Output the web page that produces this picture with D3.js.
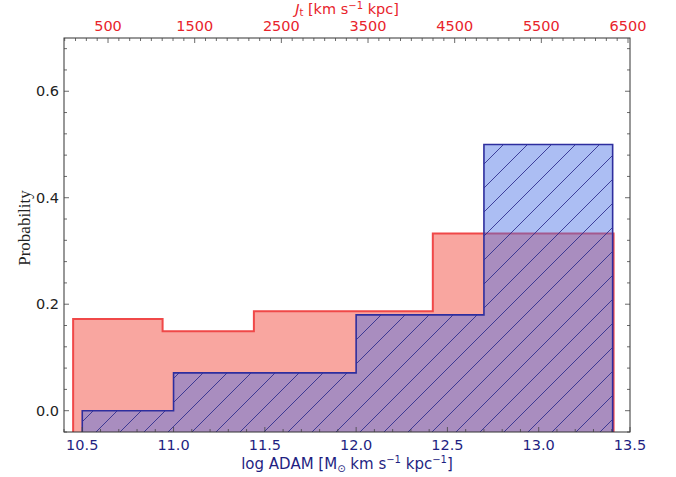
<!DOCTYPE html>
<html>
<head>
<meta charset="utf-8">
<script src="https://cdn.jsdelivr.net/npm/d3@7"></script>
<style>
  body { margin: 0; background: #fff; }
  svg { display: block; }
  text { font-family: "DejaVu Sans", sans-serif; }
  text.serif { font-family: "Liberation Serif", "DejaVu Serif", serif; }
</style>
</head>
<body>
<div id="chart"></div>
<script>
// histogram
const redEdges = [10.45, 10.94, 11.44, 11.93, 12.42, 12.92, 13.41];
const redValues = [0.172, 0.149, 0.187, 0.187, 0.333, 0.333];
const blueEdges = [10.5, 11.0, 12.0, 12.7, 13.405];
const blueValues = [0.0, 0.071, 0.18, 0.5];

const bottomTicks = [10.5, 11.0, 11.5, 12.0, 12.5, 13.0, 13.5];
const yTicks = [0.0, 0.2, 0.4, 0.6];
const topTicks = [500, 1500, 2500, 3500, 4500, 5500, 6500];

const width = 676, height = 477;
const margin = {top: 38, right: 46, bottom: 45, left: 64};

const svg = d3.select("#chart").append("svg")
    .attr("width", width)
    .attr("height", height);

const x = d3.scaleLinear().domain([10.4, 13.5]).range([margin.left, width - margin.right]);
const y = d3.scaleLinear().domain([-0.04, 0.70]).range([height - margin.bottom, margin.top]);
const xTop = d3.scaleLinear().domain([-8, 6523]).range([margin.left, width - margin.right]);

const navy = "#1f1f82";
const red = "#e8232b";

const defs = svg.append("defs");
defs.append("clipPath").attr("id", "plotClip")
    .append("rect")
    .attr("x", margin.left).attr("y", margin.top)
    .attr("width", width - margin.left - margin.right)
    .attr("height", height - margin.top - margin.bottom);

// "/" hatch
const hatch = defs.append("pattern")
    .attr("id", "hatch")
    .attr("patternUnits", "userSpaceOnUse")
    .attr("width", 24).attr("height", 24);
hatch.append("path")
    .attr("d", "M-6,6 L6,-6 M0,24 L24,0 M18,30 L30,18")
    .attr("stroke", "#2a2a8c")
    .attr("stroke-width", 1)
    .attr("stroke-opacity", 0.85);

// step outline from edges + values, closed down to the baseline
function stepPoints(edges, values) {
    const base = -0.1;
    const pts = [[edges[0], base]];
    values.forEach((v, i) => {
        pts.push([edges[i], v]);
        pts.push([edges[i + 1], v]);
    });
    pts.push([edges[edges.length - 1], base]);
    return pts;
}

const line = d3.line().x(d => x(d[0])).y(d => y(d[1]));

const plot = svg.append("g").attr("clip-path", "url(#plotClip)");

plot.append("path")
    .attr("d", line(stepPoints(redEdges, redValues)))
    .attr("fill", "#f9a6a0")
    .attr("stroke", "#f04848")
    .attr("stroke-width", 2);

const bluePts = stepPoints(blueEdges, blueValues);
plot.append("path")
    .attr("d", line(bluePts))
    .attr("fill", "rgb(70,110,228)")
    .attr("fill-opacity", 0.45)
    .attr("stroke", "none");
plot.append("path")
    .attr("d", line(bluePts))
    .attr("fill", "url(#hatch)")
    .attr("stroke", "#2e2e9e")
    .attr("stroke-width", 1.6);

// frame
svg.append("rect")
    .attr("x", margin.left).attr("y", margin.top)
    .attr("width", width - margin.left - margin.right)
    .attr("height", height - margin.top - margin.bottom)
    .attr("fill", "none")
    .attr("stroke", "#333")
    .attr("stroke-width", 1);

const x0 = margin.left, x1 = width - margin.right;
const y0 = height - margin.bottom, y1 = margin.top;
const ticks = svg.append("g").attr("stroke", "#444").attr("stroke-width", 0.8);

// bottom ticks (inward)
d3.range(10.4, 13.501, 0.1).forEach(v => {
    const major = bottomTicks.some(t => Math.abs(t - v) < 1e-6);
    ticks.append("line")
        .attr("x1", x(v)).attr("x2", x(v))
        .attr("y1", y0).attr("y2", y0 - (major ? 5 : 3));
});
// top ticks
d3.range(0, 6523, 125).forEach(v => {
    const major = topTicks.includes(v);
    ticks.append("line")
        .attr("x1", xTop(v)).attr("x2", xTop(v))
        .attr("y1", y1).attr("y2", y1 + (major ? 5 : 3));
});
// left + right ticks
d3.range(-0.04, 0.7001, 0.04).forEach(v => {
    const major = yTicks.some(t => Math.abs(t - v) < 1e-6);
    const len = major ? 5 : 3;
    ticks.append("line")
        .attr("x1", x0).attr("x2", x0 + len)
        .attr("y1", y(v)).attr("y2", y(v));
    ticks.append("line")
        .attr("x1", x1).attr("x2", x1 - len)
        .attr("y1", y(v)).attr("y2", y(v));
});

// tick labels
svg.append("g").selectAll("text")
    .data(bottomTicks)
    .join("text")
    .attr("x", d => x(d))
    .attr("y", 450)
    .attr("text-anchor", "middle")
    .attr("font-size", 14.5)
    .attr("fill", navy)
    .text(d => d.toFixed(1));

svg.append("g").selectAll("text")
    .data(yTicks)
    .join("text")
    .attr("x", 59)
    .attr("y", d => y(d))
    .attr("dy", "0.35em")
    .attr("text-anchor", "end")
    .attr("font-size", 14.5)
    .attr("fill", "#222")
    .text(d => d.toFixed(1));

svg.append("g").selectAll("text")
    .data(topTicks)
    .join("text")
    .attr("x", d => xTop(d))
    .attr("y", 31)
    .attr("text-anchor", "middle")
    .attr("font-size", 14.5)
    .attr("fill", red)
    .text(d => d);

// axis titles
svg.append("text")
    .attr("class", "serif")
    .attr("transform", "translate(30," + ((y0 + y1) / 2 - 7) + ") rotate(-90)")
    .attr("text-anchor", "middle")
    .attr("font-size", 17)
    .attr("fill", "#222")
    .text("Probability");

const xLab = svg.append("text")
    .attr("x", (x0 + x1) / 2)
    .attr("y", 469)
    .attr("text-anchor", "middle")
    .attr("font-size", 15)
    .attr("fill", navy);
xLab.append("tspan").text("log ADAM [M");
xLab.append("tspan").attr("font-size", 10).attr("dy", 3).text("\u2299");
xLab.append("tspan").attr("dy", -3).text(" km s");
xLab.append("tspan").attr("font-size", 10).attr("dy", -6).text("\u22121");
xLab.append("tspan").attr("dy", 6).text(" kpc");
xLab.append("tspan").attr("font-size", 10).attr("dy", -6).text("\u22121");
xLab.append("tspan").attr("dy", 6).text("]");

const topLab = svg.append("text")
    .attr("x", (x0 + x1) / 2)
    .attr("y", 14)
    .attr("text-anchor", "middle")
    .attr("font-size", 14.5)
    .attr("fill", red);
topLab.append("tspan").attr("font-style", "italic").text("J");
topLab.append("tspan").attr("font-size", 10).attr("dy", 2).text("t");
topLab.append("tspan").attr("dy", -2).text(" [km s");
topLab.append("tspan").attr("font-size", 10).attr("dy", -5).text("\u22121");
topLab.append("tspan").attr("dy", 5).text(" kpc]");
</script>
</body>
</html>
